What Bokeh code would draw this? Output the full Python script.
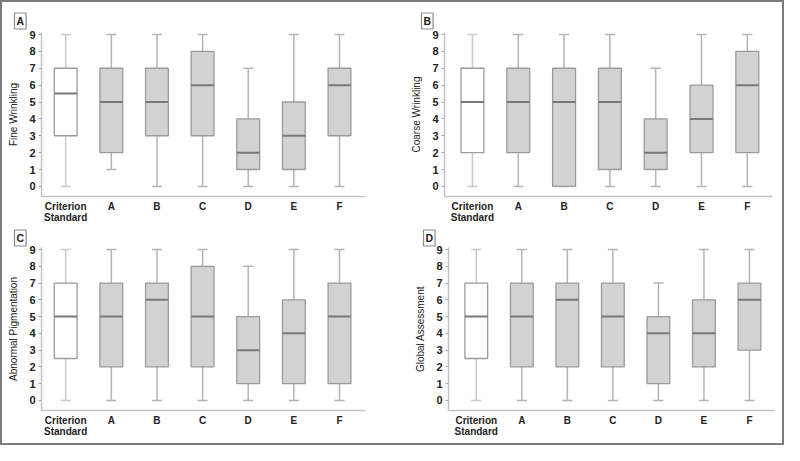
from bokeh.plotting import figure
from bokeh.layouts import column, row
from bokeh.models import Range1d, FixedTicker, ColumnDataSource
from bokeh.embed import file_html
from bokeh.resources import INLINE

categories = ["Criterion\nStandard", "A", "B", "C", "D", "E", "F"]
y_ticks = [0, 1, 2, 3, 4, 5, 6, 7, 8, 9]

# Fine Wrinkling
fine_low = [0, 1, 0, 0, 0, 0, 0]
fine_q1 = [3, 2, 3, 3, 1, 1, 3]
fine_med = [5.5, 5, 5, 6, 2, 3, 6]
fine_q3 = [7, 7, 7, 8, 4, 5, 7]
fine_high = [9, 9, 9, 9, 7, 9, 9]

# Coarse Wrinkling
coarse_low = [0, 0, 0, 0, 0, 0, 0]
coarse_q1 = [2, 2, 0, 1, 1, 2, 2]
coarse_med = [5, 5, 5, 5, 2, 4, 6]
coarse_q3 = [7, 7, 7, 7, 4, 6, 8]
coarse_high = [9, 9, 9, 9, 7, 9, 9]

# Abnormal Pigmentation
pig_low = [0, 0, 0, 0, 0, 0, 0]
pig_q1 = [2.5, 2, 2, 2, 1, 1, 1]
pig_med = [5, 5, 6, 5, 3, 4, 5]
pig_q3 = [7, 7, 7, 8, 5, 6, 7]
pig_high = [9, 9, 9, 9, 8, 9, 9]

# Global Assessment
glob_low = [0, 0, 0, 0, 0, 0, 0]
glob_q1 = [2.5, 2, 2, 2, 1, 2, 3]
glob_med = [5, 5, 6, 5, 4, 4, 6]
glob_q3 = [7, 7, 7, 7, 5, 6, 7]
glob_high = [9, 9, 9, 9, 7, 9, 9]

FONT = "Liberation Sans"
BOX_W = 0.5
CAP_W = 0.22


def panel(letter, ylabel, low, q1, med, q3, high, width, height,
          bl, bt, bb, br, xr, lab_off, lab_standoff):
    p = figure(width=width, height=height, output_backend="svg",
               toolbar_location=None, x_range=Range1d(*xr),
               y_range=Range1d(-0.6, 9.12), min_border_left=bl,
               min_border_top=bt, min_border_bottom=bb, min_border_right=br)
    p.outline_line_color = None
    p.grid.visible = False
    xs = list(range(len(categories)))
    fills = ["#ffffff"] + ["#d2d2d2"] * (len(xs) - 1)
    wcol = ["#cacaca"] + ["#b4b4b4"] * (len(xs) - 1)
    src = ColumnDataSource(dict(
        x=xs, low=low, q1=q1, med=med, q3=q3, high=high, fill=fills, wcol=wcol,
        xl=[x - BOX_W / 2 for x in xs], xr=[x + BOX_W / 2 for x in xs],
        cl=[x - CAP_W / 2 for x in xs], cr=[x + CAP_W / 2 for x in xs]))
    p.segment(x0="x", y0="low", x1="x", y1="q1", source=src, line_color="wcol", line_width=1.5)
    p.segment(x0="x", y0="q3", x1="x", y1="high", source=src, line_color="wcol", line_width=1.5)
    p.segment(x0="cl", y0="low", x1="cr", y1="low", source=src, line_color="wcol", line_width=1.5)
    p.segment(x0="cl", y0="high", x1="cr", y1="high", source=src, line_color="wcol", line_width=1.5)
    p.vbar(x="x", width=BOX_W, bottom="q1", top="q3", source=src,
           fill_color="fill", line_color="#9a9a9a", line_width=1.3)
    p.segment(x0="xl", y0="med", x1="xr", y1="med", source=src,
              line_color="#787878", line_width=2)

    p.xaxis.ticker = FixedTicker(ticks=xs)
    p.xaxis.major_label_overrides = {i: c for i, c in enumerate(categories)}
    p.xaxis.major_tick_line_color = None
    p.xaxis.major_tick_out = 0
    p.xaxis.major_tick_in = 0
    p.xaxis.minor_tick_line_color = None
    p.xaxis.minor_tick_out = 0
    p.xaxis.axis_line_color = "#c4c4c4"
    p.xaxis.axis_line_width = 1.5
    p.xaxis.major_label_standoff = 4
    p.xaxis.major_label_text_font = FONT
    p.xaxis.major_label_text_font_style = "bold"
    p.xaxis.major_label_text_font_size = "10px"
    p.xaxis.major_label_text_color = "#222222"
    p.xaxis.major_label_text_line_height = 1.0

    p.yaxis.ticker = FixedTicker(ticks=y_ticks)
    p.yaxis.minor_tick_line_color = None
    p.yaxis.minor_tick_out = 0
    p.yaxis.major_tick_in = 0
    p.yaxis.major_tick_out = 3
    p.yaxis.major_tick_line_color = "#aaaaaa"
    p.yaxis.axis_line_color = "#c4c4c4"
    p.yaxis.axis_line_width = 1.5
    p.yaxis.major_label_standoff = 3
    p.yaxis.major_label_text_font = FONT
    p.yaxis.major_label_text_font_style = "bold"
    p.yaxis.major_label_text_font_size = "11px"
    p.yaxis.major_label_text_color = "#222222"
    p.yaxis.axis_label = ylabel
    p.yaxis.axis_label_text_font = FONT
    p.yaxis.axis_label_text_font_style = "normal"
    p.yaxis.axis_label_text_font_size = "10px"
    p.yaxis.axis_label_text_color = "#222222"
    p.yaxis.axis_label_standoff = 7

    p.title.text = letter
    p.title.align = "left"
    p.title.offset = lab_off
    p.title.standoff = lab_standoff
    p.title.text_font = FONT
    p.title.text_font_style = "bold"
    p.title.text_font_size = "10.5px"
    p.title.text_color = "#222222"
    p.title.border_line_color = "#8a8a8a"
    p.title.border_line_width = 1.2
    p.title.background_fill_color = "#ffffff"
    p.title.padding = 2
    return p


pA = panel("A", "Fine Wrinkling", fine_low, fine_q1, fine_med, fine_q3, fine_high,
           390, 224, 39, 30, 30, 27, (-0.53, 6.57), -27, 7)
pB = panel("B", "Coarse Wrinkling", coarse_low, coarse_q1, coarse_med, coarse_q3, coarse_high,
           390, 224, 52, 30, 30, 10, (-0.61, 6.55), -23, 7)
pC = panel("C", "Abnormal Pigmentation", pig_low, pig_q1, pig_med, pig_q3, pig_high,
           390, 217, 39, 20, 33, 27, (-0.53, 6.57), -27, 3)
pD = panel("D", "Global Assessment", glob_low, glob_q1, glob_med, glob_q3, glob_high,
           390, 217, 56, 20, 33, 8, (-0.61, 6.55), -25, 3)

layout = column(row(pA, pB, spacing=0), row(pC, pD, spacing=0), spacing=0,
                styles={"border": "2px solid #7c7c7c"})

open("out.html", "w").write(file_html(layout, INLINE))
